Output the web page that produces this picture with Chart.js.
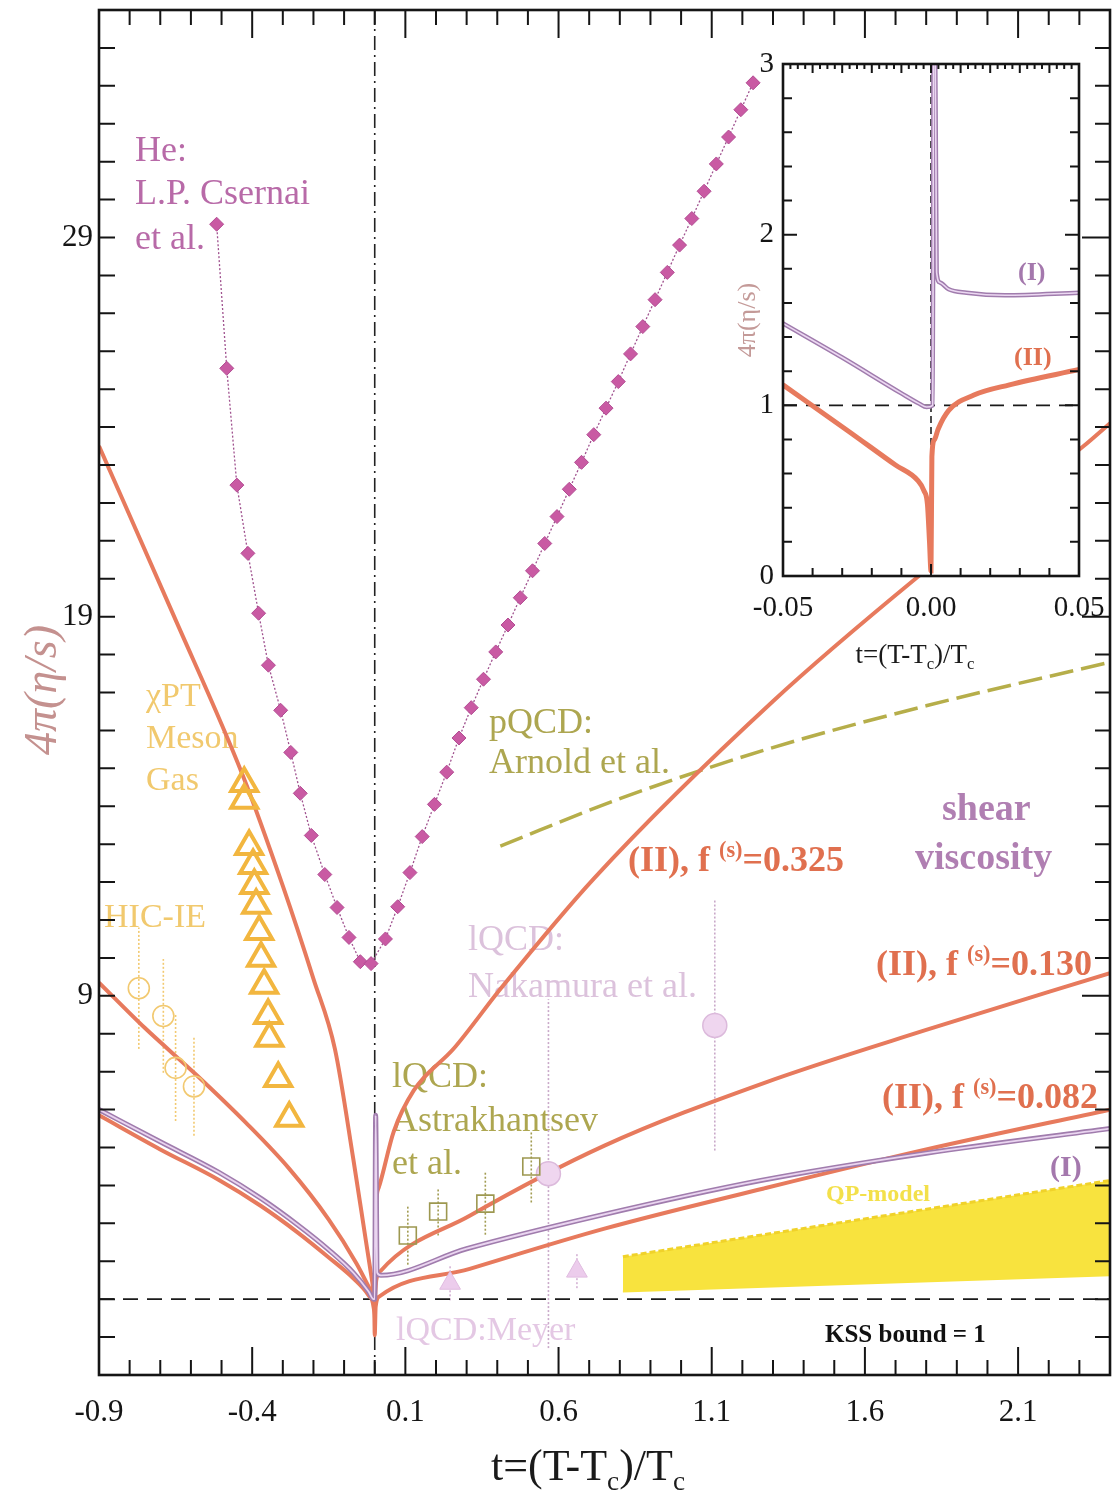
<!DOCTYPE html>
<html>
<head>
<meta charset="utf-8">
<title>shear viscosity</title>
<script src="https://cdn.jsdelivr.net/npm/chart.js@4.4.1/dist/chart.umd.min.js"></script>
<style>
  html, body { margin: 0; padding: 0; background: #fff; overflow: hidden; }
  #wrap { position: relative; width: 1118px; height: 1497px; overflow: hidden; }
  canvas { position: absolute; }
  #mainChart { left: 0; top: 0; }
  #insetChart { left: 700px; top: 30px; }
</style>
</head>
<body>
<div id="wrap">
  <canvas id="mainChart" width="1118" height="1497"></canvas>
  <canvas id="insetChart" width="418" height="660"></canvas>
</div>
<script>
const SERIF = '"Liberation Serif", "DejaVu Serif", serif';

// axes
const xTickLabels = [-0.9, -0.4, 0.1, 0.6, 1.1, 1.6, 2.1];
const yTickLabels = [9, 19, 29];
const insetXTicks = [-0.05, 0, 0.05];
const insetYTicks = [0, 1, 2, 3];
const kssBound = 1;

// He: L.P. Csernai et al.
const heT = [-0.516, -0.483, -0.45, -0.414, -0.379, -0.347, -0.307, -0.274, -0.243, -0.207, -0.163, -0.123, -0.084, -0.047, -0.012,
  0.035, 0.075, 0.115, 0.155, 0.195, 0.235, 0.275, 0.315, 0.355, 0.395, 0.435, 0.475, 0.515, 0.555, 0.595, 0.635,
  0.675, 0.715, 0.755, 0.795, 0.835, 0.875, 0.915, 0.955, 0.995, 1.035, 1.075, 1.115, 1.155, 1.195, 1.235];
const heV = [29.35, 25.55, 22.47, 20.67, 19.09, 17.72, 16.53, 15.42, 14.34, 13.23, 12.2, 11.33, 10.54, 9.9, 9.85,
  10.5, 11.35, 12.25, 13.2, 14.05, 14.9, 15.8, 16.6, 17.35, 18.07, 18.78, 19.5, 20.21, 20.93, 21.64, 22.36,
  23.07, 23.8, 24.5, 25.2, 25.93, 26.65, 27.36, 28.08, 28.8, 29.5, 30.22, 30.94, 31.65, 32.37, 33.08];

// chiPT meson gas
const chiT = [-0.426, -0.426, -0.41, -0.397, -0.393, -0.387, -0.377, -0.371, -0.361, -0.348, -0.344, -0.315, -0.279];
const chiV = [14.6, 14.16, 12.94, 12.44, 11.91, 11.39, 10.7, 9.99, 9.28, 8.48, 7.88, 6.82, 5.77];

// HIC-IE
const hicT = [-0.77, -0.69, -0.65, -0.59];
const hicV = [9.2, 8.47, 7.1, 6.61];
const hicErr = [1.6, 1.5, 1.4, 1.3];

// lQCD Astrakhantsev et al.
const astT = [0.108, 0.207, 0.361, 0.511];
const astV = [2.68, 3.31, 3.52, 4.5];
const astErr = [0.77, 0.63, 0.82, 0.95];

// lQCD Nakamura et al.
const nakT = [0.567, 1.11];
const nakV = [4.31, 8.22];
const nakErr = [4.6, 3.3];

// lQCD Meyer
const meyT = [0.246, 0.66];
const meyV = [1.42, 1.74];
const meyErr = [0.45, 0.45];

// model (I)
const modelIT = [-0.9, -0.7, -0.51, -0.37, -0.25, -0.15, -0.07, -0.02, -0.004, 0.0, 0.003, 0.008, 0.02, 0.3, 0.73, 1.26, 1.8, 2.4];
const modelIV = [6.0, 5.15, 4.35, 3.65, 2.95, 2.3, 1.7, 1.2, 1.0, 1.0, 5.85, 1.7, 1.63, 2.33, 3.2, 4.13, 4.85, 5.5];

// model (II), f(s)=0.082
const f082T = [-0.9, -0.7, -0.51, -0.37, -0.25, -0.15, -0.07, -0.02, -0.004, -0.001, 0.0, 0.003, 0.015, 0.31, 0.75, 1.27, 1.8, 2.4];
const f082V = [5.85, 4.95, 4.15, 3.45, 2.75, 2.1, 1.55, 1.1, 0.8, 0.5, 0.05, 0.8, 1.07, 1.8, 2.86, 3.92, 4.95, 6.0];

// model (II), f(s)=0.130
const f130T = [-0.9, -0.75, -0.58, -0.42, -0.28, -0.15, -0.06, -0.015, 0.0, 0.005, 0.02, 0.31, 0.75, 1.27, 1.8, 2.4];
const f130V = [9.35, 8.15, 6.9, 5.65, 4.45, 3.1, 1.95, 1.25, 1.0, 1.5, 1.75, 3.2, 5.05, 6.7, 8.1, 9.6];

// model (II), f(s)=0.325
const f325T = [-0.9, -0.66, -0.43, -0.3, -0.2, -0.13, -0.07, -0.03, -0.008, 0.0, 0.004, 0.013, 0.062, 0.127, 0.258, 0.412, 0.716, 1.3, 1.765, 2.314, 2.4];
const f325V = [23.5, 19.1, 14.8, 11.9, 9.45, 7.6, 4.7, 2.6, 1.45, 1.0, 3.4, 3.94, 5.42, 6.5, 7.61, 9.2, 12.1, 16.77, 20.0, 23.5, 24.1];

// pQCD Arnold et al.
const pqcdT = [0.41, 0.8, 1.28, 1.8, 2.4];
const pqcdV = [12.95, 14.2, 15.5, 16.65, 17.8];

// QP-model band
const qpT = [0.81, 2.4];
const qpLow = [1.2, 1.63];
const qpHigh = [2.12, 4.13];

// inset
const insetIT = [-0.05, -0.03, -0.01, -0.004, -0.0015, 0.0006, 0.0009, 0.0013, 0.0019, 0.003, 0.006, 0.012, 0.025, 0.05];
const insetIV = [1.48, 1.28, 1.07, 1.01, 0.99, 1.0, 3.4, 3.4, 1.78, 1.72, 1.68, 1.66, 1.645, 1.66];
const insetIIT = [-0.05, -0.028, -0.012, -0.0045, -0.0024, -0.0012, -0.0005, 0.0, 0.0003, 0.0012, 0.0024, 0.006, 0.0145, 0.0265, 0.05];
const insetIIV = [1.12, 0.85, 0.65, 0.56, 0.5, 0.42, 0.2, 0.03, 0.7, 0.8, 0.86, 0.97, 1.06, 1.12, 1.21];

const ORANGE = '#e77a5d';

function pts(ts, vs) {
  return ts.map((t, i) => ({ x: t, y: vs[i] }));
}

function curve(data, color, width, extra) {
  return Object.assign({
    data, showLine: true, borderColor: color, borderWidth: width,
    pointRadius: 0, cubicInterpolationMode: 'monotone', fill: false
  }, extra || {});
}

// scales with no Chart.js labels; labels are drawn by the plugins
function bareScale(min, max, fit) {
  return {
    type: 'linear', min, max,
    afterFit: fit,
    grid: { display: false, drawTicks: false },
    border: { display: false },
    ticks: { display: false }
  };
}

function richText(ctx, x, y, segs, size, weight, color, align) {
  const measure = () => segs.reduce((w, s) => {
    ctx.font = `${weight} ${(s.sup || s.sub) ? size * 0.62 : size}px ${SERIF}`;
    return w + ctx.measureText(s.t).width;
  }, 0);
  let cx = align === 'center' ? x - measure() / 2 : x;
  ctx.fillStyle = color;
  ctx.textAlign = 'left';
  segs.forEach(s => {
    const fs = (s.sup || s.sub) ? size * 0.62 : size;
    ctx.font = `${weight} ${fs}px ${SERIF}`;
    const dy = s.sup ? -size * 0.4 : s.sub ? size * 0.22 : 0;
    ctx.fillText(s.t, cx, y + dy);
    cx += ctx.measureText(s.t).width;
  });
}

function tickRun(ctx, a, scale, side, from, to, step, majorEvery, minorLen, majorLen) {
  const n = Math.round((to - from) / step);
  for (let i = 0; i <= n; i++) {
    const p = scale.getPixelForValue(from + i * step);
    const len = (majorEvery && i % majorEvery === 0) ? majorLen : minorLen;
    if (side === 'bottom') { ctx.moveTo(p, a.bottom); ctx.lineTo(p, a.bottom - len); }
    if (side === 'top') { ctx.moveTo(p, a.top); ctx.lineTo(p, a.top + len); }
    if (side === 'left') { ctx.moveTo(a.left, p); ctx.lineTo(a.left + len, p); }
    if (side === 'right') { ctx.moveTo(a.right, p); ctx.lineTo(a.right - len, p); }
  }
}

function tickLabels(chart, xVals, yVals, fmtX, size, xGap, yGap) {
  const { ctx, chartArea: a, scales: { x, y } } = chart;
  ctx.save();
  ctx.font = `${size}px ${SERIF}`;
  ctx.fillStyle = '#151515';
  ctx.textBaseline = 'middle';
  ctx.textAlign = 'center';
  xVals.forEach(v => ctx.fillText(fmtX(v), x.getPixelForValue(v), a.bottom + xGap));
  ctx.textAlign = 'right';
  yVals.forEach(v => ctx.fillText(String(v), a.left - yGap, y.getPixelForValue(v)));
  ctx.restore();
}

function drawErrorBars(chart) {
  const { ctx, scales: { x, y } } = chart;
  chart.data.datasets.forEach(ds => {
    if (!ds.errBars) return;
    ctx.save();
    ctx.strokeStyle = ds.errColor;
    ctx.lineWidth = 1.6;
    ctx.setLineDash([2, 2]);
    ds.data.forEach((p, i) => {
      const px = x.getPixelForValue(p.x);
      ctx.beginPath();
      ctx.moveTo(px, y.getPixelForValue(p.y - ds.errBars[i]));
      ctx.lineTo(px, y.getPixelForValue(p.y + ds.errBars[i]));
      ctx.stroke();
    });
    ctx.restore();
  });
}

const mainTexts = [
  ['He:', 135, 161, 36, 'normal', '#b86aa8'],
  ['L.P. Csernai', 135, 204, 36, 'normal', '#b86aa8'],
  ['et al.', 135, 249, 36, 'normal', '#b86aa8'],
  ['\u03c7PT', 146, 706, 34, 'normal', '#f1c96e'],
  ['Meson', 146, 748, 34, 'normal', '#f1c96e'],
  ['Gas', 146, 790, 34, 'normal', '#f1c96e'],
  ['HIC-IE', 104, 927, 34, 'normal', '#f1c96e'],
  ['pQCD:', 489, 733, 36, 'normal', '#ada650'],
  ['Arnold et al.', 489, 773, 36, 'normal', '#ada650'],
  ['lQCD:', 468, 950, 36, 'normal', '#dcc2dc'],
  ['Nakamura et al.', 468, 997, 36, 'normal', '#dcc2dc'],
  ['lQCD:', 392, 1087, 36, 'normal', '#ada650'],
  ['Astrakhantsev', 392, 1131, 36, 'normal', '#ada650'],
  ['et al.', 392, 1174, 36, 'normal', '#ada650'],
  ['lQCD:Meyer', 396, 1340, 34, 'normal', '#e4c8e4'],
  ['shear', 942, 820, 38, 'bold', '#b07fb2'],
  ['viscosity', 915, 869, 38, 'bold', '#b07fb2'],
  ['(I)', 1050, 1176, 30, 'bold', '#a478ad'],
  ['QP-model', 826, 1201, 24, 'bold', '#f3e04a'],
  ['KSS bound = 1', 825, 1342, 25, 'bold', '#111111']
];

const mainDecor = {
  id: 'mainDecor',
  beforeDatasetsDraw(chart) {
    const { ctx, chartArea: a, scales: { x } } = chart;
    ctx.save();
    // t = 0 dash-dot line
    ctx.strokeStyle = '#222';
    ctx.lineWidth = 1.6;
    ctx.setLineDash([14, 5, 2, 5]);
    ctx.beginPath();
    const x0 = x.getPixelForValue(0);
    ctx.moveTo(x0, a.top);
    ctx.lineTo(x0, a.bottom);
    ctx.stroke();
    ctx.setLineDash([]);
    mainTexts.forEach(([t, tx, ty, size, weight, color]) => {
      ctx.font = `${weight} ${size}px ${SERIF}`;
      ctx.fillStyle = color;
      ctx.textAlign = 'left';
      ctx.fillText(t, tx, ty);
    });
    richText(ctx, 628, 871, [{ t: '(II), f ' }, { t: '(s)', sup: true }, { t: '=0.325' }], 36, 'bold', '#e0704f');
    richText(ctx, 876, 975, [{ t: '(II), f ' }, { t: '(s)', sup: true }, { t: '=0.130' }], 36, 'bold', '#e0704f');
    richText(ctx, 882, 1108, [{ t: '(II), f ' }, { t: '(s)', sup: true }, { t: '=0.082' }], 36, 'bold', '#e0704f');
    ctx.restore();
    drawErrorBars(chart);
  },
  afterDatasetsDraw(chart) {
    const { ctx, chartArea: a, scales: { x, y } } = chart;
    ctx.save();
    ctx.strokeStyle = '#151515';
    ctx.lineWidth = 2;
    ctx.beginPath();
    tickRun(ctx, a, x, 'bottom', -0.9, 2.4, 0.1, 5, 15, 28);
    tickRun(ctx, a, x, 'top', -0.9, 2.4, 0.1, 5, 15, 28);
    tickRun(ctx, a, y, 'left', -1, 35, 1, 10, 16, 16);
    tickRun(ctx, a, y, 'right', -1, 35, 1, 10, 15, 28);
    ctx.stroke();
    ctx.lineWidth = 2.6;
    ctx.strokeRect(a.left, a.top, a.right - a.left, a.bottom - a.top);
    ctx.restore();
    tickLabels(chart, xTickLabels, yTickLabels, v => String(v), 31, 38, 6);
    ctx.save();
    richText(ctx, 588, 1480, [{ t: 't=(T-T' }, { t: 'c', sub: true }, { t: ')/T' }, { t: 'c', sub: true }], 44, 'normal', '#1a1a1a', 'center');
    ctx.translate(42, 690);
    ctx.rotate(-Math.PI / 2);
    ctx.font = `italic 46px ${SERIF}`;
    ctx.fillStyle = '#c4918f';
    ctx.textAlign = 'center';
    ctx.fillText('4\u03c0(\u03b7/s)', 0, 14);
    ctx.restore();
  }
};

new Chart(document.getElementById('mainChart'), {
  type: 'scatter',
  data: {
    datasets: [
      {
        data: pts(heT, heV), showLine: true, borderColor: '#a0528f', borderWidth: 1.3, borderDash: [2, 2],
        pointStyle: 'rectRot', pointRadius: 7, pointBackgroundColor: '#c95aa3', pointBorderColor: '#b24c92', pointBorderWidth: 1
      },
      {
        data: pts(chiT, chiV), showLine: false, pointStyle: 'triangle', pointRadius: 15,
        pointBackgroundColor: 'rgba(0,0,0,0)', pointBorderColor: '#f2b63f', pointBorderWidth: 4
      },
      {
        data: pts(hicT, hicV), showLine: false, pointStyle: 'circle', pointRadius: 10.5,
        pointBackgroundColor: 'rgba(0,0,0,0)', pointBorderColor: '#f2c970', pointBorderWidth: 1.6,
        errBars: hicErr, errColor: '#f2c970'
      },
      {
        data: pts(astT, astV), showLine: false, pointStyle: 'rect', pointRadius: 12,
        pointBackgroundColor: 'rgba(0,0,0,0)', pointBorderColor: '#9d9850', pointBorderWidth: 1.6,
        errBars: astErr, errColor: '#a29c52'
      },
      {
        data: pts(nakT, nakV), showLine: false, pointStyle: 'circle', pointRadius: 12,
        pointBackgroundColor: '#efd6ef', pointBorderColor: '#dcbadc', pointBorderWidth: 1.5,
        errBars: nakErr, errColor: '#c9a9c9'
      },
      {
        data: pts(meyT, meyV), showLine: false, pointStyle: 'triangle', pointRadius: 12,
        pointBackgroundColor: '#ecccec', pointBorderColor: '#e0bce0', pointBorderWidth: 1,
        errBars: meyErr, errColor: '#d4b2d4'
      },
      curve(pts(modelIT, modelIV), '#ead5f0', 1.8),
      curve(pts(modelIT, modelIV), '#a07cad', 5),
      curve(pts(f082T, f082V), ORANGE, 4),
      curve(pts(f130T, f130V), ORANGE, 4),
      curve(pts(f325T, f325V), ORANGE, 4),
      curve(pts(pqcdT, pqcdV), '#b6ae4a', 3.5, { borderDash: [24, 8] }),
      curve(pts(qpT, qpHigh), '#f0d22a', 3, { borderDash: [6, 3], fill: '+1', backgroundColor: '#f8e33e', cubicInterpolationMode: 'default' }),
      curve(pts(qpT, qpLow), '#f8e33e', 2, { cubicInterpolationMode: 'default' }),
      curve([{ x: -0.9, y: kssBound }, { x: 2.4, y: kssBound }], '#1a1a1a', 1.8, { borderDash: [15, 9], cubicInterpolationMode: 'default' })
    ]
  },
  options: {
    responsive: false,
    animation: false,
    events: [],
    layout: { autoPadding: false, padding: { top: 10, right: 8, left: 0, bottom: 0 } },
    plugins: { legend: { display: false }, tooltip: { enabled: false } },
    scales: {
      x: bareScale(-0.9, 2.4, s => { s.height = 122; }),
      y: bareScale(-1, 35, s => { s.width = 99; })
    }
  },
  plugins: [mainDecor]
});

const insetDecor = {
  id: 'insetDecor',
  beforeDraw(chart) {
    const { ctx, chartArea: a } = chart;
    ctx.save();
    ctx.fillStyle = '#ffffff';
    ctx.fillRect(a.left, a.top, a.right - a.left, a.bottom - a.top);
    ctx.restore();
  },
  beforeDatasetsDraw(chart) {
    const { ctx, chartArea: a, scales: { x } } = chart;
    ctx.save();
    ctx.strokeStyle = '#222';
    ctx.lineWidth = 1.6;
    ctx.setLineDash([7, 4]);
    ctx.beginPath();
    const x0 = x.getPixelForValue(0);
    ctx.moveTo(x0, a.top);
    ctx.lineTo(x0, a.bottom);
    ctx.stroke();
    ctx.setLineDash([]);
    ctx.font = `bold 26px ${SERIF}`;
    ctx.fillStyle = '#a478ad';
    ctx.fillText('(I)', 318, 250);
    ctx.fillStyle = '#e0704f';
    ctx.fillText('(II)', 314, 335);
    ctx.restore();
  },
  afterDatasetsDraw(chart) {
    const { ctx, chartArea: a, scales: { x, y } } = chart;
    ctx.save();
    ctx.strokeStyle = '#151515';
    ctx.lineWidth = 2;
    ctx.beginPath();
    tickRun(ctx, a, x, 'bottom', -0.05, 0.05, 0.01, 5, 8, 12);
    tickRun(ctx, a, x, 'top', -0.05, 0.05, 0.0025, 4, 5, 9);
    tickRun(ctx, a, y, 'left', 0, 3, 0.2, 5, 9, 14);
    tickRun(ctx, a, y, 'right', 0, 3, 0.2, 5, 9, 14);
    ctx.stroke();
    ctx.lineWidth = 2.6;
    ctx.strokeRect(a.left, a.top, a.right - a.left, a.bottom - a.top);
    ctx.restore();
    tickLabels(chart, insetXTicks, insetYTicks, v => v.toFixed(2), 29, 32, 9);
    ctx.save();
    richText(ctx, 215, 633, [{ t: 't=(T-T' }, { t: 'c', sub: true }, { t: ')/T' }, { t: 'c', sub: true }], 27, 'normal', '#1a1a1a', 'center');
    ctx.translate(46, 290);
    ctx.rotate(-Math.PI / 2);
    ctx.font = `26px ${SERIF}`;
    ctx.fillStyle = '#c49a98';
    ctx.textAlign = 'center';
    ctx.fillText('4\u03c0(\u03b7/s)', 0, 9);
    ctx.restore();
  }
};

new Chart(document.getElementById('insetChart'), {
  type: 'scatter',
  data: {
    datasets: [
      curve(pts(insetIT, insetIV), '#ecd8f2', 1.6),
      curve(pts(insetIT, insetIV), '#a07cad', 4.5),
      curve(pts(insetIIT, insetIIV), ORANGE, 5),
      curve([{ x: -0.05, y: kssBound }, { x: 0.05, y: kssBound }], '#1a1a1a', 1.8, { borderDash: [14, 9], cubicInterpolationMode: 'default' })
    ]
  },
  options: {
    responsive: false,
    animation: false,
    events: [],
    layout: { autoPadding: false, padding: { top: 34, right: 39, left: 0, bottom: 0 } },
    plugins: { legend: { display: false }, tooltip: { enabled: false } },
    scales: {
      x: bareScale(-0.05, 0.05, s => { s.height = 114; }),
      y: bareScale(0, 3, s => { s.width = 83; })
    }
  },
  plugins: [insetDecor]
});
</script>
</body>
</html>
